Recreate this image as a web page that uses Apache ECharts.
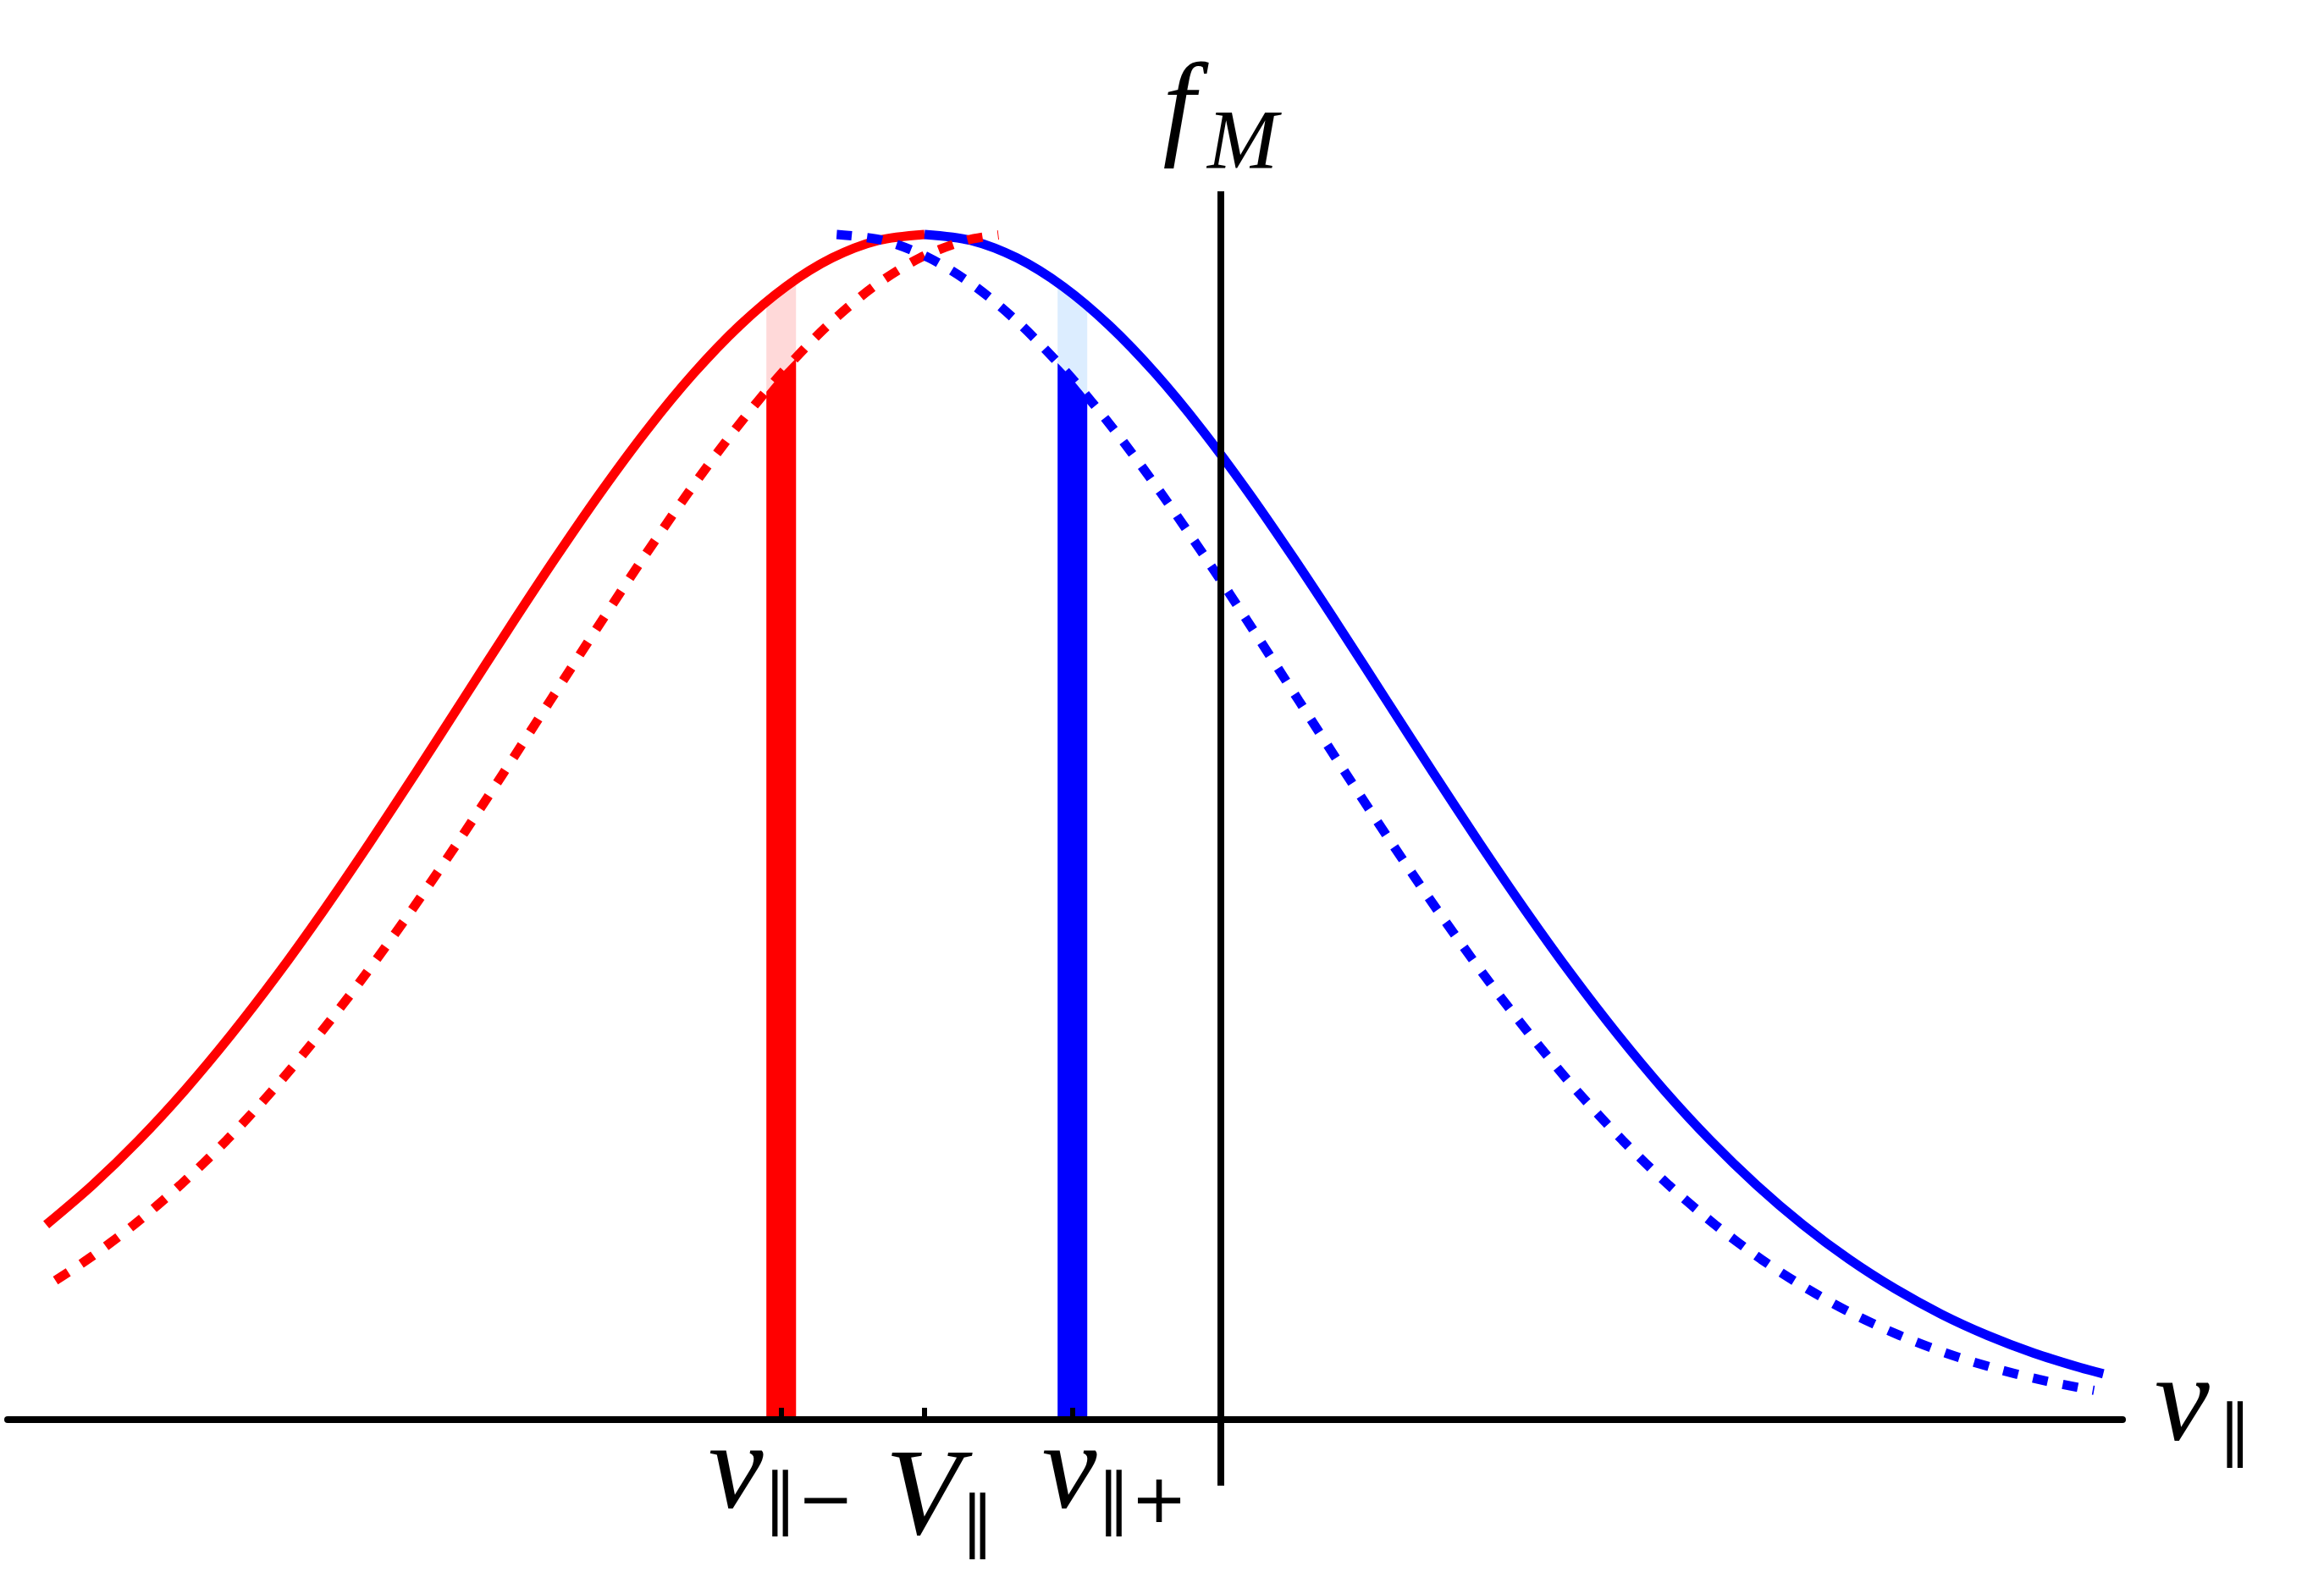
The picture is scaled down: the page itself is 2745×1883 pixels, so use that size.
<!DOCTYPE html>
<html><head><meta charset="utf-8">
<script src="https://cdn.jsdelivr.net/npm/echarts@6/dist/echarts.min.js"></script>
<style>html,body{margin:0;padding:0;background:#fff}#c{width:2745px;height:1883px}</style>
</head><body><div id="c"></div>
<script>
// x: velocity in thermal-width units, origin at V_par ; y: normalised f
const redSolidX  = [-1.9,-1.8,-1.7,-1.6,-1.5,-1.4,-1.3,-1.2,-1.1,-1.0,-0.9,-0.8,-0.7,-0.6,-0.5,-0.4,-0.3,-0.2,-0.1,0];
const redSolidY  = [0.1645,0.1979,0.2357,0.2780,0.3247,0.3753,0.4296,0.4868,0.5461,0.6065,0.6670,0.7261,0.7827,0.8353,0.8825,0.9231,0.9560,0.9802,0.9950,1];
const blueSolidX = [0,0.1,0.2,0.3,0.4,0.5,0.6,0.7,0.8,0.9,1.0,1.1,1.2,1.3,1.4,1.5,1.6,1.7,1.8,1.9,2.0,2.1,2.2,2.3,2.4,2.5,2.55];
const blueSolidY = [1,0.9950,0.9802,0.9560,0.9231,0.8825,0.8353,0.7827,0.7261,0.6670,0.6065,0.5461,0.4868,0.4296,0.3753,0.3247,0.2780,0.2357,0.1979,0.1645,0.1353,0.1103,0.0889,0.0710,0.0561,0.0439,0.0387];
const redDotX  = [-1.88,-1.81,-1.71,-1.61,-1.51,-1.41,-1.31,-1.21,-1.11,-1.01,-0.91,-0.81,-0.71,-0.61,-0.51,-0.41,-0.31,-0.21,-0.11,-0.01,0.09,0.16];
const redDotY  = [0.1174,0.1353,0.1645,0.1979,0.2357,0.2780,0.3247,0.3753,0.4296,0.4868,0.5461,0.6065,0.6670,0.7261,0.7827,0.8353,0.8825,0.9231,0.9560,0.9802,0.9950,0.9996];
const blueDotX = [-0.19,-0.09,0.01,0.11,0.21,0.31,0.41,0.51,0.61,0.71,0.81,0.91,1.01,1.11,1.21,1.31,1.41,1.51,1.61,1.71,1.81,1.91,2.01,2.11,2.21,2.31,2.41,2.51,2.53];
const blueDotY = [1,0.9950,0.9802,0.9560,0.9231,0.8825,0.8353,0.7827,0.7261,0.6670,0.6065,0.5461,0.4868,0.4296,0.3753,0.3247,0.2780,0.2357,0.1979,0.1645,0.1353,0.1103,0.0889,0.0710,0.0561,0.0439,0.0340,0.0261,0.0247];
const barX = [-0.31, 0.32];              // v_par-  , v_par+
const tickValues = [-0.31, 0, 0.32];
// label slots: empty end slots keep the three real labels away from min/max label handling
const labelValues = [-1.9, -0.31, 0, 0.32, 2.5];
const labelMain = ['', 'v', 'V', 'v', ''];
const labelSub  = ['', '\u2225\u2212', '\u2225', '\u2225+', ''];
const fMPos = 0.64;
const xName = ['v', '\u2225'];
const yName = ['f', 'M'];

const pairs = (xs, ys) => xs.map((x, i) => [x, ys[i]]);
const solidX = redSolidX.concat(blueSolidX.slice(1));
const solidY = redSolidY.concat(blueSolidY.slice(1));
function interp(xs, ys, x) {
  if (x <= xs[0]) return ys[0];
  for (let i = 1; i < xs.length; i++) {
    if (x <= xs[i]) { const t = (x - xs[i-1]) / (xs[i] - xs[i-1]); return ys[i-1] + t * (ys[i] - ys[i-1]); }
  }
  return ys[ys.length - 1];
}
const BAR_W = 35;
const barColors = [['#ffd9d9', '#ff0000'], ['#dcedff', '#0000ff']];
const barDot = [[redDotX, redDotY], [blueDotX, blueDotY]];

const serif = 'Liberation Serif';
const sans = 'DejaVu Sans';
const MAINF = 146, SUBF = 80;

const chart = echarts.init(document.getElementById('c'));
chart.setOption({
  animation: false,
  backgroundColor: '#fff',
  grid: { left: 9, right: 238, top: 226, bottom: 128, containLabel: false, outerBoundsMode: 'none' },
  xAxis: {
    type: 'value', min: -1.9835, max: 2.5916, z: 5,
    axisLine: { onZero: true, lineStyle: { color: '#000', width: 8 } },
    axisTick: { show: true, customValues: tickValues, inside: true, length: 14, lineStyle: { color: '#000', width: 6 } },
    splitLine: { show: false },
    axisLabel: {
      customValues: labelValues, margin: -85, hideOverlap: false, color: '#000',
      formatter: function (v) {
        const i = labelValues.indexOf(v);
        if (i < 0 || !labelMain[i]) return '';
        if (labelMain[i] === 'V') return '{M|' + labelMain[i] + '}{S|' + labelSub[i] + '}';
        if (v === barX[1]) return '{m2|' + labelMain[i] + '}{s|' + labelSub[i] + '}';
        return '{m|' + labelMain[i] + '}{s|' + labelSub[i] + '}';
      },
      rich: {
        m:  { fontFamily: serif, fontStyle: 'italic', fontSize: MAINF, lineHeight: 90, verticalAlign: 'top', color: '#000' },
        m2: { fontFamily: serif, fontStyle: 'italic', fontSize: MAINF, lineHeight: 90, verticalAlign: 'top', color: '#000', padding: [0, 0, 0, 100] },
        M:  { fontFamily: serif, fontStyle: 'italic', fontSize: MAINF, lineHeight: 90, verticalAlign: 'top', color: '#000', padding: [31, 0, 0, 36] },
        s:  { fontFamily: sans, fontSize: SUBF, lineHeight: 80, verticalAlign: 'top', color: '#000', padding: [67, 0, 0, 0] },
        S:  { fontFamily: sans, fontSize: SUBF, lineHeight: 80, verticalAlign: 'top', color: '#000', padding: [94, 0, 0, 0] }
      }
    },
    name: '{n|' + xName[0] + '}{ns|' + xName[1] + '}',
    nameLocation: 'end', nameGap: 38,
    nameTextStyle: {
      padding: [0, 0, 84, 0],
      rich: {
        n:  { fontFamily: serif, fontStyle: 'italic', fontSize: MAINF, lineHeight: 90, verticalAlign: 'top', color: '#000' },
        ns: { fontFamily: sans, fontSize: SUBF, lineHeight: 80, verticalAlign: 'top', color: '#000', padding: [66, 0, 0, 10] }
      }
    }
  },
  yAxis: { type: 'value', min: -0.0557, max: 1.0364, show: false },
  series: [
    {
      type: 'custom', z: 2, silent: true,
      data: barX.map((x, i) => [x, i]),
      encode: { x: 0, y: 1 },
      renderItem: function (params, api) {
        const xv = api.value(0), idx = api.value(1);
        const c = api.coord([xv, 0]);
        const ppu = api.size([1, 0])[0];
        const hw = BAR_W / 2, n = 10;
        function poly(cx, cy) {
          const pts = [[c[0] - hw, c[1]]];
          for (let k = 0; k <= n; k++) {
            const px = c[0] - hw + 2 * hw * k / n;
            const dx = xv + (px - c[0]) / ppu;
            const p = api.coord([dx, interp(cx, cy, dx)]);
            pts.push([px, p[1]]);
          }
          pts.push([c[0] + hw, c[1]]);
          return pts;
        }
        return {
          type: 'group',
          children: [
            { type: 'polygon', shape: { points: poly(solidX, solidY) }, style: { fill: barColors[idx][0] } },
            { type: 'polygon', shape: { points: poly(barDot[idx][0], barDot[idx][1]) }, style: { fill: barColors[idx][1] } }
          ]
        };
      }
    },
    { type: 'line', z: 3, data: pairs(redSolidX, redSolidY), smooth: 0.3, showSymbol: false, lineStyle: { color: '#ff0000', width: 11, cap: 'butt' } },
    { type: 'line', z: 3, data: pairs(blueSolidX, blueSolidY), smooth: 0.3, showSymbol: false, lineStyle: { color: '#0000ff', width: 11, cap: 'butt' } },
    { type: 'line', z: 4, data: pairs(redDotX, redDotY), smooth: 0.3, showSymbol: false, lineStyle: { color: '#ff0000', width: 11, type: [18, 18], cap: 'butt' } },
    { type: 'line', z: 4, data: pairs(blueDotX, blueDotY), smooth: 0.3, showSymbol: false, lineStyle: { color: '#0000ff', width: 11, type: [18, 18], cap: 'butt' } },
    {
      type: 'line', z: 6, data: [[fMPos, 0]], showSymbol: false, lineStyle: { width: 0 }, silent: true,
      markLine: {
        silent: true, symbol: ['none', 'none'], animation: false,
        lineStyle: { color: '#000', width: 8, type: 'solid' },
        label: {
          show: true, position: 'end', distance: 61,
          formatter: '{f|' + yName[0] + '}{fm|' + yName[1] + '}',
          rich: {
            f:  { fontFamily: serif, fontStyle: 'italic', fontSize: 138, lineHeight: 100, verticalAlign: 'top', color: '#000' },
            fm: { fontFamily: serif, fontStyle: 'italic', fontSize: 100, lineHeight: 100, verticalAlign: 'top', color: '#000', padding: [57, 0, 0, 14] }
          }
        },
        data: [{ xAxis: fMPos }]
      }
    }
  ]
});
</script></body></html>
